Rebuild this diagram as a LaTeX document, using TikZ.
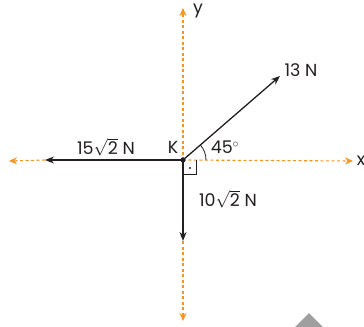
\documentclass[tikz,border=0pt]{standalone}
\usepackage{fontspec}
\setmainfont{Poppins}
\usetikzlibrary{arrows.meta}
\definecolor{axisorange}{HTML}{F7941D}
\definecolor{vecblack}{HTML}{231F20}
\begin{document}
\begin{tikzpicture}[x=1bp,y=-1bp,
  axisline/.style={axisorange,line width=1.1bp,dash pattern=on 3bp off 2.5bp,-{Stealth[length=8bp,width=7bp]}},
  vecline/.style={vecblack,line width=1.3bp,-{Stealth[length=9bp,width=7bp]}},
  lbl/.style={text=vecblack,font=\fontsize{17.5}{18}\selectfont,inner sep=0pt}]
\useasboundingbox (0,0) rectangle (364,327);
\coordinate (K) at (183,160);
\coordinate (xl) at (9,161);
\coordinate (xr) at (353,161);
\coordinate (yt) at (183,8);
\coordinate (yb) at (183,321);
\coordinate (vl) at (45,160);
\coordinate (vd) at (183,241);
\coordinate (vu) at (280,76);
% axes
\draw[axisline] (K) -- (xr);
\draw[axisline] (vl) -- (xl);
\draw[axisline] (K) -- (yt);
\draw[axisline] (vd) -- (yb);
% vectors
\draw[vecline] (K) -- (vl);
\draw[vecline] (K) -- (vd);
\draw[vecline] (K) -- (vu);
% angle arc
\draw[vecblack,line width=0.8bp] ([xshift=23bp]K) arc[start angle=0,end angle=41,radius=23bp];
% right angle mark
\draw[vecblack,line width=0.8bp] ([xshift=13bp]K) -- ([xshift=13bp,yshift=-14bp]K) -- ([yshift=-14bp]K);
\fill[vecblack] (190,168) circle (1.1bp);
\fill[vecblack] (K) circle (2.6bp);
% labels
\node[lbl] (ly) at (198,11) {y};
\node[lbl] (lx) at (361,161) {x};
\node[lbl] (l13) at (301,70) {13 N};
\node[lbl] (l45) at (225,147) {45$^{\circ}$};
\node[lbl] (lK) at (173,147) {K};
\node[lbl] (l15) at (106,147) {15$\sqrt{\mbox{2}}$ N};
\node[lbl] (l10) at (228,199) {10$\sqrt{\mbox{2}}$ N};
% gray triangle
\fill[gray!75] (295,327) -- (309,313) -- (323,327) -- cycle;
\end{tikzpicture}
\end{document}
